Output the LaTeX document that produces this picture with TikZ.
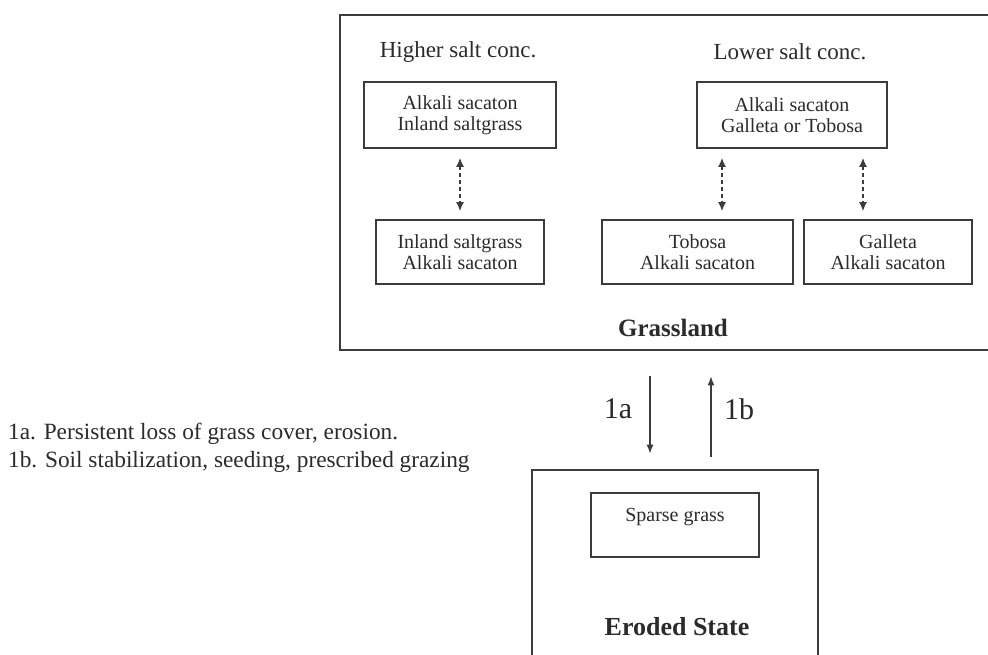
\documentclass[tikz,border=0pt]{standalone}
\usepackage{fontspec}
\setmainfont{Liberation Serif}
\usetikzlibrary{arrows.meta}
\definecolor{ink}{HTML}{2B2B2B}
\definecolor{edge}{HTML}{3C3C3C}
\begin{document}
\begin{tikzpicture}[x=1pt,y=-1pt,
  box/.style={draw=edge,line width=1.6pt,inner sep=0pt,align=center,text=ink,font=\fontsize{20}{21.5}\selectfont},
  bigbox/.style={draw=edge,line width=2.6pt,inner sep=0pt},
  head/.style={text=ink,font=\fontsize{23}{26}\selectfont,inner sep=0pt},
  title/.style={text=ink,font=\bfseries\fontsize{25}{28}\selectfont,inner sep=0pt},
  plain/.style={text=ink,font=\fontsize{20}{22}\selectfont,inner sep=0pt},
  flowlabel/.style={text=ink,font=\fontsize{30}{32}\selectfont,inner sep=0pt},
  legend/.style={text=ink,font=\fontsize{23.3}{28}\selectfont,inner sep=0pt,align=left,anchor=west},
  dasharrow/.style={draw=edge,line width=1.6pt,dash pattern=on 4pt off 3pt,{Latex[length=9pt,width=8pt]}-{Latex[length=9pt,width=8pt]}},
  flow/.style={draw=edge,line width=1.4pt,-{Latex[length=9pt,width=7pt]}},
]
\useasboundingbox (0,0) rectangle (988,655);
\fill[white] (0,0) rectangle (988,655);

% Grassland state
\node[bigbox,minimum width=656pt,minimum height=335pt] (grass) at (668,182.5) {};
\node[head] (hhigh) at (458,52) {Higher salt conc.};
\node[head] (hlow) at (790,52) {Lower salt conc.};
\node[box,minimum width=192pt,minimum height=66pt] (a1) at (460,115) {Alkali sacaton\\Inland saltgrass};
\node[box,minimum width=190pt,minimum height=66pt] (a2) at (792,115) {Alkali sacaton\\Galleta or Tobosa};
\node[box,minimum width=168pt,minimum height=64pt] (b1) at (460,252) {Inland saltgrass\\Alkali sacaton};
\node[box,minimum width=191pt,minimum height=64pt] (b2) at (697.5,252) {Tobosa\\Alkali sacaton};
\node[box,minimum width=168pt,minimum height=64pt] (b3) at (888,252) {Galleta\\Alkali sacaton};
\node[title] (grasstitle) at (673,328) {Grassland};

\coordinate (x1) at (460,0);
\coordinate (x2) at (722,0);
\coordinate (x3) at (863,0);
\draw[dasharrow,shorten <=9pt,shorten >=8pt] (a1.south -| x1) -- (b1.north -| x1);
\draw[dasharrow,shorten <=9pt,shorten >=8pt] (a2.south -| x2) -- (b2.north -| x2);
\draw[dasharrow,shorten <=9pt,shorten >=8pt] (a2.south -| x3) -- (b3.north -| x3);

% Eroded state
\node[bigbox,minimum width=286pt,minimum height=200pt] (eroded) at (675,570) {};
\node[box,minimum width=168pt,minimum height=64pt] (sparse) at (675,525) {};
\node[plain] (sparsetext) at (675,517) {Sparse grass};
\node[title,font=\bfseries\fontsize{26}{28}\selectfont] (erodedtitle) at (677,627) {Eroded State};

% transitions
\coordinate (xa) at (650,0);
\coordinate (xb) at (711,0);
\draw[flow,shorten <=25pt,shorten >=15pt] (grass.south -| xa) -- (eroded.north -| xa);
\draw[flow,shorten <=12pt,shorten >=25pt] (eroded.north -| xb) -- (grass.south -| xb);
\node[flowlabel] (l1a) at (618,409) {1a};
\node[flowlabel] (l1b) at (739,409) {1b};

% legend
\node[legend] (legendtext) at (8,448) {1a. Persistent loss of grass cover, erosion.\\1b. Soil stabilization, seeding, prescribed grazing};
\end{tikzpicture}
\end{document}
